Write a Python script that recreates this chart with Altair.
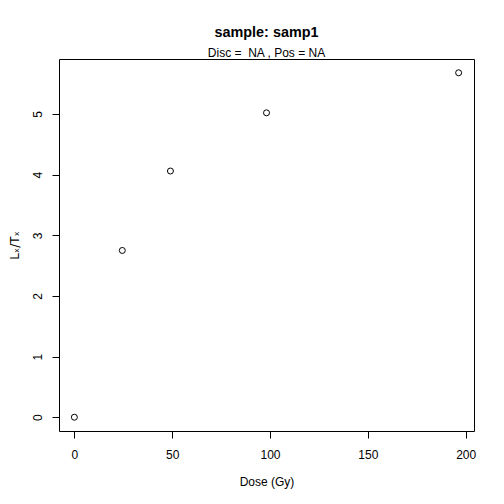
import altair as alt
import pandas as pd

dose = [0, 24.5, 49.1, 98.2, 196.4]
lxtx = [0.0, 2.75, 4.06, 5.02, 5.68]
x_ticks = [0, 50, 100, 150, 200]
y_ticks = [0, 1, 2, 3, 4, 5]

df = pd.DataFrame({"dose": dose, "lxtx": lxtx})

def r_range(vals):
    lo, hi = min(vals), max(vals)
    pad = (hi - lo) * 0.04
    return [lo - pad, hi + pad]

FONT = "Liberation Sans"

points = alt.Chart(df).mark_point(
    shape="circle", filled=False, color="black", strokeWidth=1, size=36, opacity=1
).encode(
    x=alt.X("dose:Q", scale=alt.Scale(domain=r_range(dose), nice=False, zero=False),
            axis=alt.Axis(title="Dose (Gy)", values=x_ticks, grid=False, domain=False,
                          tickColor="black", tickSize=7, tickWidth=1,
                          labelFont=FONT, labelFontSize=12, labelColor="black",
                          labelBaseline="alphabetic", labelPadding=20.5,
                          labelFlush=False, labelOverlap=False,
                          titleFont=FONT, titleFontSize=12, titleFontWeight="normal",
                          titleColor="black", titleBaseline="alphabetic", titleY=54)),
    y=alt.Y("lxtx:Q", scale=alt.Scale(domain=r_range(lxtx), nice=False, zero=False),
            axis=alt.Axis(title="Lₓ/Tₓ", values=y_ticks, grid=False, domain=False,
                          tickColor="black", tickSize=7, tickWidth=1,
                          labelFont=FONT, labelFontSize=12, labelColor="black",
                          labelAngle=270, labelAlign="center", labelBaseline="alphabetic",
                          labelPadding=10.3, labelFlush=False, labelOverlap=False,
                          titleFont="DejaVu Sans", titleFontSize=12, titleFontWeight="normal",
                          titleColor="black", titleAngle=270, titleBaseline="alphabetic",
                          titleAlign="center", titleX=-41, titleY=186)),
)

chart = points.properties(
    width=415, height=372,
    autosize=alt.AutoSizeParams(type="none"),
    padding={"left": 51, "top": 51, "right": 14, "bottom": 60},
    title=alt.TitleParams(
        text="sample: samp1", subtitle="Disc = \u00a0NA , Pos = NA",
        anchor="middle", font=FONT, fontSize=14.4, fontWeight="bold", color="black",
        subtitleFont=FONT, subtitleFontSize=12, subtitleColor="black",
        subtitlePadding=6, offset=-12, baseline="alphabetic"),
).configure(background="white", view=alt.ViewConfig(stroke="black", strokeWidth=1))

chart.save("out.html", embed_options={"renderer": "svg", "actions": False})
